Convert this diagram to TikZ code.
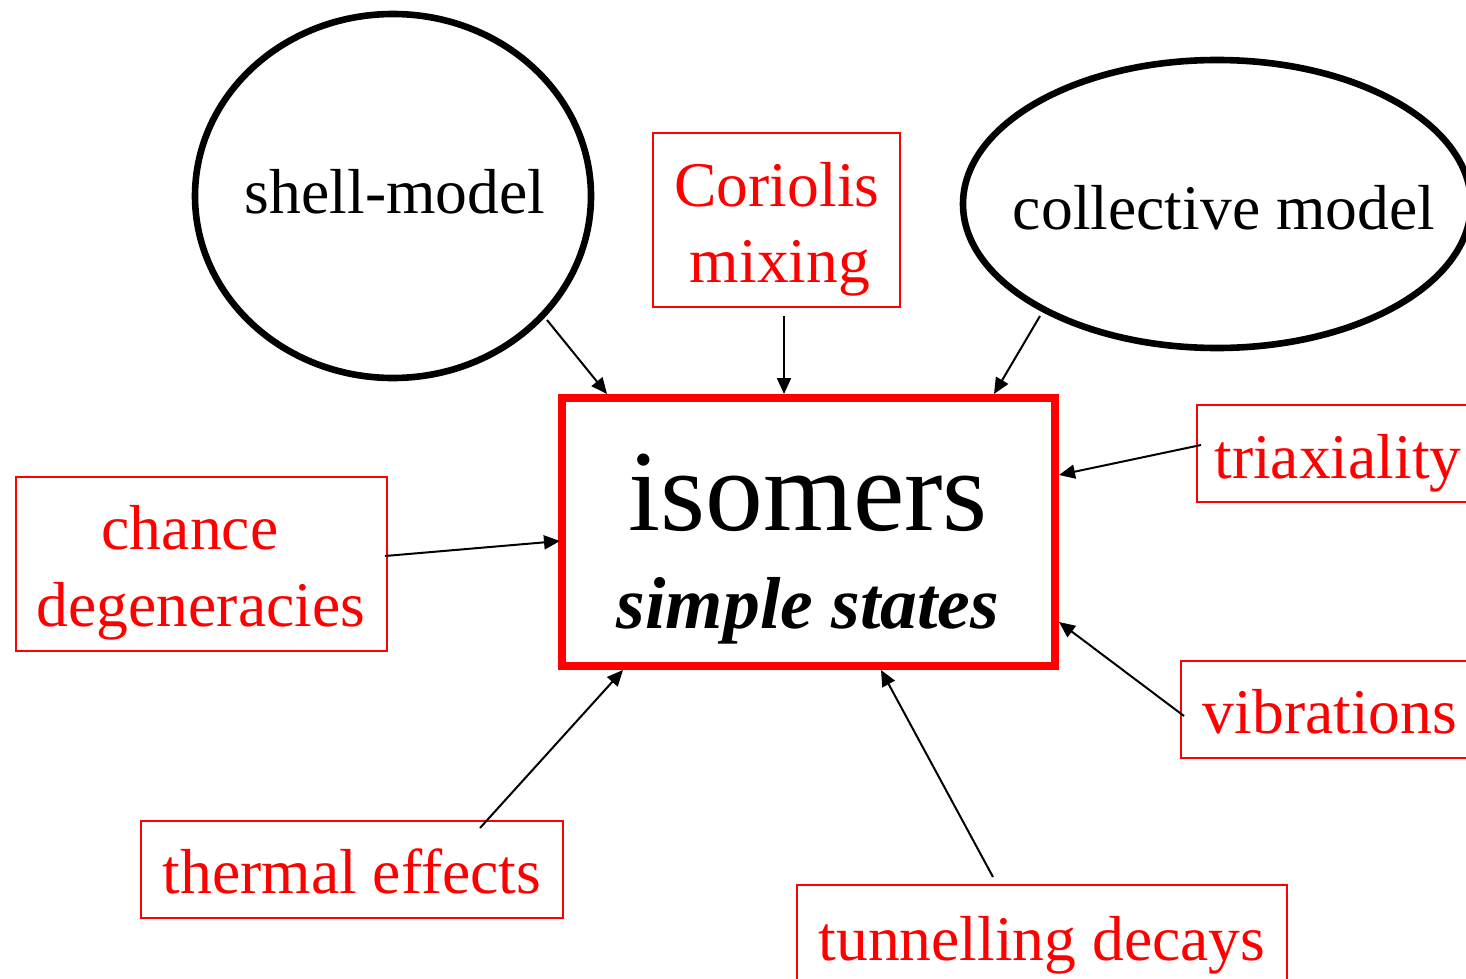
\documentclass[tikz,border=0pt]{standalone}
\usepackage{fontspec}
\setmainfont{Liberation Serif}
\usetikzlibrary{shapes.geometric,arrows.meta}
\begin{document}
\begin{tikzpicture}[x=0.5pt,y=-0.5pt,
  oval/.style={draw=black,line width=3.3pt,ellipse,inner sep=0pt},
  redbox/.style={draw=red,line width=0.75pt,rectangle,inner sep=0pt},
  bigbox/.style={draw=red,line width=4pt,rectangle,inner sep=0pt},
  lbl/.style={anchor=base,inner sep=0pt,font=\fontsize{31.8pt}{38pt}\selectfont},
  redlbl/.style={lbl,text=red},
  conn/.style={draw=black,line width=1pt,-{Triangle[length=8pt,width=7pt]}}]
\clip (0,0) rectangle (1466,979);
\fill[white] (0,0) rectangle (1466,979);
% shapes
\node[oval,minimum width=396*0.5pt,minimum height=364*0.5pt] (shell) at (393,196) {};
\node[oval,minimum width=508*0.5pt,minimum height=288*0.5pt] (coll) at (1217,204) {};
\node[redbox,minimum width=247*0.5pt,minimum height=174*0.5pt] (cor) at (776.5,220) {};
\node[bigbox,minimum width=493*0.5pt,minimum height=268*0.5pt] (iso) at (808.5,532) {};
\node[redbox,minimum width=371*0.5pt,minimum height=174*0.5pt] (chance) at (201.5,564) {};
\node[redbox,minimum width=283*0.5pt,minimum height=97*0.5pt] (tri) at (1338.5,453.5) {};
\node[redbox,minimum width=299*0.5pt,minimum height=97*0.5pt] (vib) at (1330.5,709.5) {};
\node[redbox,minimum width=422*0.5pt,minimum height=97*0.5pt] (therm) at (352,869.5) {};
\node[redbox,minimum width=490*0.5pt,minimum height=100*0.5pt] (tunn) at (1042,935) {};
% texts
\node[lbl] (shellt) at (395,213) {shell-model};
\node[lbl] (collt) at (1224,229) {collective model};
\node[redlbl] (cort1) at (777,206) {Coriolis};
\node[redlbl] (cort2) at (780,282) {mixing};
\node[lbl,font=\fontsize{57.8pt}{60pt}\selectfont] (isot) at (808,530) {isomers};
\node[lbl,font=\fontsize{36.8pt}{40pt}\selectfont\bfseries\itshape] (simt) at (808,628) {simple states};
\node[redlbl] (cht1) at (190,549) {chance};
\node[redlbl] (cht2) at (201,626) {degeneracies};
\node[redlbl] (trit) at (1338,478) {triaxiality};
\node[redlbl] (vibt) at (1330,733) {vibrations};
\node[redlbl] (thermt) at (352,893) {thermal effects};
\node[redlbl] (tunnt) at (1042,960) {tunnelling decays};
% connector ends
\coordinate (s1) at (547,320);   \coordinate (e1) at (607,394);
\coordinate (s2) at (784,316);   \coordinate (e2) at (784,394);
\coordinate (s3) at (1040,316);  \coordinate (e3) at (994,394);
\coordinate (s4) at (1201,445);  \coordinate (e4) at (1059,475);
\coordinate (s5) at (385,556);   \coordinate (e5) at (560,541);
\coordinate (s6) at (1184,716);  \coordinate (e6) at (1059,622);
\coordinate (s7) at (480,828);   \coordinate (e7) at (623,670);
\coordinate (s8) at (993,877);   \coordinate (e8) at (881,670);
\draw[conn] (s1) -- (e1);
\draw[conn] (s2) -- (e2);
\draw[conn] (s3) -- (e3);
\draw[conn] (s4) -- (e4);
\draw[conn] (s5) -- (e5);
\draw[conn] (s6) -- (e6);
\draw[conn] (s7) -- (e7);
\draw[conn] (s8) -- (e8);
\end{tikzpicture}
\end{document}
